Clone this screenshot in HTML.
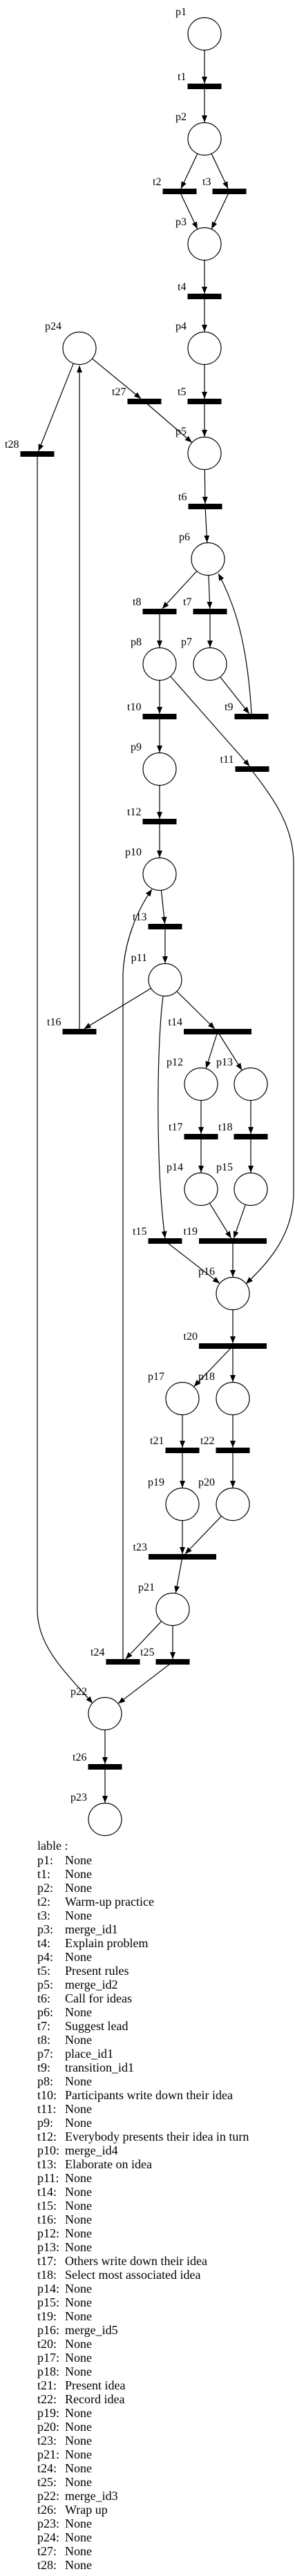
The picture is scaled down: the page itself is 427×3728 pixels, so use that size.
<!DOCTYPE html>
<html><head><meta charset="utf-8"><style>
body{margin:0;background:#fff;width:427px;height:3728px;overflow:hidden}
svg{display:block}
.lbl{font-family:"Liberation Serif",serif;font-size:16px;fill:#000}
.leg{font-family:"Liberation Serif",serif;font-size:18px;fill:#000}
</style></head><body>
<svg id="net" width="427" height="3728" viewBox="0 0 427 3728" xmlns="http://www.w3.org/2000/svg">
<defs><marker id="ah" markerWidth="10" markerHeight="8" refX="10" refY="4" orient="auto" markerUnits="userSpaceOnUse"><path d="M0,0 L10,4 L0,8 z" fill="#000"/></marker></defs>
<g id="edges"></g><g id="nodes"></g><g id="legend"></g>
</svg>
<script>
const placeNames=["p1","p2","p3","p4","p5","p24","p6","p8","p7","p9","p10","p11","p12","p13","p14","p15","p16","p17","p18","p19","p20","p21","p22","p23"];
const placeX=[296,296,296,296,296,115,301,231,304,231,231,239,291,363,291,363,337,264,337,264,337,250,152,152];
const placeY=[49,201,353,504,656,504,809,961,961,1113,1265,1418,1569,1569,1721,1721,1872,2024,2024,2177,2177,2329,2480,2633];
const transNames=["t1","t2","t3","t4","t5","t27","t28","t6","t8","t7","t10","t9","t11","t12","t13","t16","t14","t17","t18","t15","t19","t20","t21","t22","t23","t24","t25","t26"];
const transX=[296,260,332,296,296,209,54,297,231,304,231,364,365,231,239,115,315,291,363,239,337,337,264,337,264,178,250,152];
const transY=[125,277,277,429,581,581,657,733,885,885,1037,1037,1113,1189,1341,1493,1493,1645,1645,1796,1796,1948,2099,2099,2253,2405,2405,2557];
const transW=[49,49,49,49,49,49,49,49,49,49,49,49,49,49,49,49,98,49,49,49,98,98,49,49,98,49,49,49];
const edgeList=["p1>t1","t1>p2","p2>t2","p2>t3","t2>p3","t3>p3","p3>t4","t4>p4","p4>t5","t5>p5","p24>t27","t27>p5","p24>t28","p5>t6","t6>p6","p6>t8","p6>t7","t8>p8","t7>p7","p7>t9","p8>t10","p8>t11","t10>p9","p9>t12","t12>p10","p10>t13","t13>p11","p11>t16","p11>t14","t14>p12","t14>p13","p12>t17","p13>t18","t17>p14","t18>p15","p14>t19","p15>t19","t15>p16","t19>p16","p16>t20","t20>p17","t20>p18","p17>t21","p18>t22","t21>p19","t22>p20","p19>t23","p20>t23","t23>p21","p21>t24","p21>t25","t25>p22","p22>t26","t26>p23"];
const legendKeys=["p1","t1","p2","t2","t3","p3","t4","p4","t5","p5","t6","p6","t7","t8","p7","t9","p8","t10","t11","p9","t12","p10","t13","p11","t14","t15","t16","p12","p13","t17","t18","p14","p15","t19","p16","t20","p17","p18","t21","t22","p19","p20","t23","p21","t24","t25","p22","t26","p23","p24","t27","t28"];
const legendVals=["None","None","None","Warm-up practice","None","merge_id1","Explain problem","None","Present rules","merge_id2","Call for ideas","None","Suggest lead","None","place_id1","transition_id1","None","Participants write down their idea","None","None","Everybody presents their idea in turn","merge_id4","Elaborate on idea","None","None","None","None","None","None","Others write down their idea","Select most associated idea","None","None","None","merge_id5","None","None","None","Present idea","Record idea","None","None","None","None","None","None","merge_id3","Wrap up","None","None","None","None"];

const NS="http://www.w3.org/2000/svg";
const R=24;
function mk(tag,attrs,parent){const e=document.createElementNS(NS,tag);for(const k in attrs)e.setAttribute(k,attrs[k]);parent.appendChild(e);return e;}
const nodes=document.getElementById('nodes'),edges=document.getElementById('edges'),legend=document.getElementById('legend');
const pos={};
placeNames.forEach((n,i)=>{pos[n]={t:'p',x:placeX[i],y:placeY[i]};});
transNames.forEach((n,i)=>{pos[n]={t:'t',x:transX[i],y:transY[i],w:transW[i]};});

placeNames.forEach((n,i)=>{
  const c=mk('ellipse',{cx:placeX[i],cy:placeY[i],rx:R,ry:R-0.5,fill:'#fff',stroke:'#000','stroke-width':1.2},nodes);
  
  
  const t=mk('text',{x:placeX[i]-26,y:placeY[i]-27,'text-anchor':'end',class:'lbl'},nodes);t.textContent=n;
  
  
});
transNames.forEach((n,i)=>{
  const r=mk('rect',{x:transX[i]-transW[i]/2,y:transY[i]-4,width:transW[i],height:8,fill:'#000'},nodes);
  
  
  const t=mk('text',{x:transX[i]-transW[i]/2-2,y:transY[i]-9,'text-anchor':'end',class:'lbl'},nodes);t.textContent=n;
  
  
});
function tip(from,to){
  // endpoint on target boundary
  if(to.t==='p'){const dx=from.x-to.x,dy=from.y-to.y,d=Math.hypot(dx,dy);return [to.x+dx/d*R,to.y+dy/d*R];}
  const dy=from.y<to.y?-4:4;const dx=from.x-to.x;const ddy=from.y-to.y;return [to.x+dx*(dy/ddy),to.y+dy];
}
function start(from,to){
  if(from.t==='p'){const dx=to.x-from.x,dy=to.y-from.y,d=Math.hypot(dx,dy);return [from.x+dx/d*R,from.y+dy/d*R];}
  return [from.x,from.y];
}
edgeList.forEach(s=>{
  const [a,b]=s.split('>');const A=pos[a],B=pos[b];
  const p0=start(A,B),p1=tip(A,B);
  const l=mk('line',{x1:p0[0],y1:p0[1],x2:p1[0],y2:p1[1],stroke:'#000','stroke-width':1.2,'marker-end':'url(#ah)'},edges);
  
  
});
const curves=[
 ["t28-p22","M54 661 L54 2330 C54 2385 100 2425 134 2465"],
 ["t16-p24","M115 1489 L115 529"],
 ["t9-p6","M364 1033 C358 930 340 875 316 830"],
 ["t11-p16","M366 1117 C400 1160 425 1200 425 1250 L425 1725 C425 1790 385 1830 356 1858"],
 ["t24-p10","M178 2405 L178 1410 C180 1360 200 1315 220 1287"],
 ["p11-t15","M236 1442 C226 1520 226 1700 239 1792"]
];
curves.forEach(c=>{
  const p=mk('path',{d:c[1],fill:'none',stroke:'#000','stroke-width':1.2,'marker-end':'url(#ah)'},edges);
  
  
});
const lt=mk('text',{x:54,y:2677,class:'leg'},legend);lt.textContent='lable :';


legendKeys.forEach((k,i)=>{
  const y=2698+i*20;
  const a=mk('text',{x:54,y:y,class:'leg'},legend);a.textContent=k+':';
  
  
  const b=mk('text',{x:94,y:y,class:'leg'},legend);b.textContent=legendVals[i];
  
  
});
</script>
</body></html>
